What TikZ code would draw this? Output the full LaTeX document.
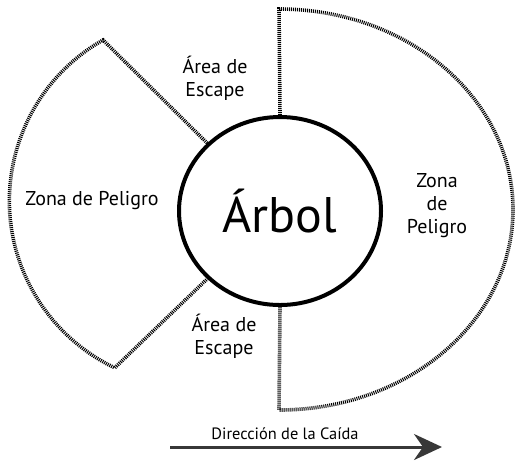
\documentclass[tikz,border=0pt]{standalone}
\usepackage{fontspec}
\setmainfont{PT Sans}
\usetikzlibrary{shapes.geometric,arrows.meta,positioning}

\begin{document}
\begin{tikzpicture}[%
       x=0.5pt, y=-0.5pt,
       tree/.style={ellipse, draw, line width=2pt, inner sep=0pt,
                    minimum width=101pt, minimum height=94pt,
                    font=\fontsize{25}{30}\selectfont},
       zone/.style={line width=1.8pt, dash pattern=on 0.5pt off 0.5pt,
                    line join=miter},
       lbl/.style={align=center, font=\fontsize{10}{11.5}\selectfont},
       fall/.style={line width=1.5pt, draw=black!78,
                    -{Stealth[length=14pt,width=13pt,inset=4.5pt,fill=black!78]}}
     ]
     \useasboundingbox (0,0) rectangle (518,462);

     \node[tree]	(tree)	at (280,211)	{Árbol};

     \coordinate (ltop)   at (103,40);
     \coordinate (rtop)   at (279,9);
     \coordinate (rbot)   at (279,410);
     \coordinate (fallstart) at (170,447);
     \coordinate (fallend)   at (442,447);

     % zona de peligro (izquierda)
     \draw[zone] (tree.137) -- (ltop)
        arc[start angle=119.6, end angle=244.5, radius=92.5pt] -- (tree.223);
     % zona de peligro (derecha)
     \draw[zone] (tree.north) -- (rtop)
        arc[start angle=90, end angle=-90, x radius=117pt, y radius=100.25pt]
        -- (tree.south);

     \node[lbl] (esctop) at (215,78)  {Área de\\Escape};
     \node[lbl] (escbot) at (224,336) {Área de\\Escape};
     \node[lbl] (zleft)  at (92,201)  {Zona de Peligro};
     \node[lbl] (zright) at (437,206) {Zona\\de\\Peligro};

     \draw[fall] (fallstart) -- (fallend);
     \node[font=\fontsize{8.2}{10}\selectfont] (falltxt) at (285,434) {Dirección de la Caída};
\end{tikzpicture}
\end{document}
